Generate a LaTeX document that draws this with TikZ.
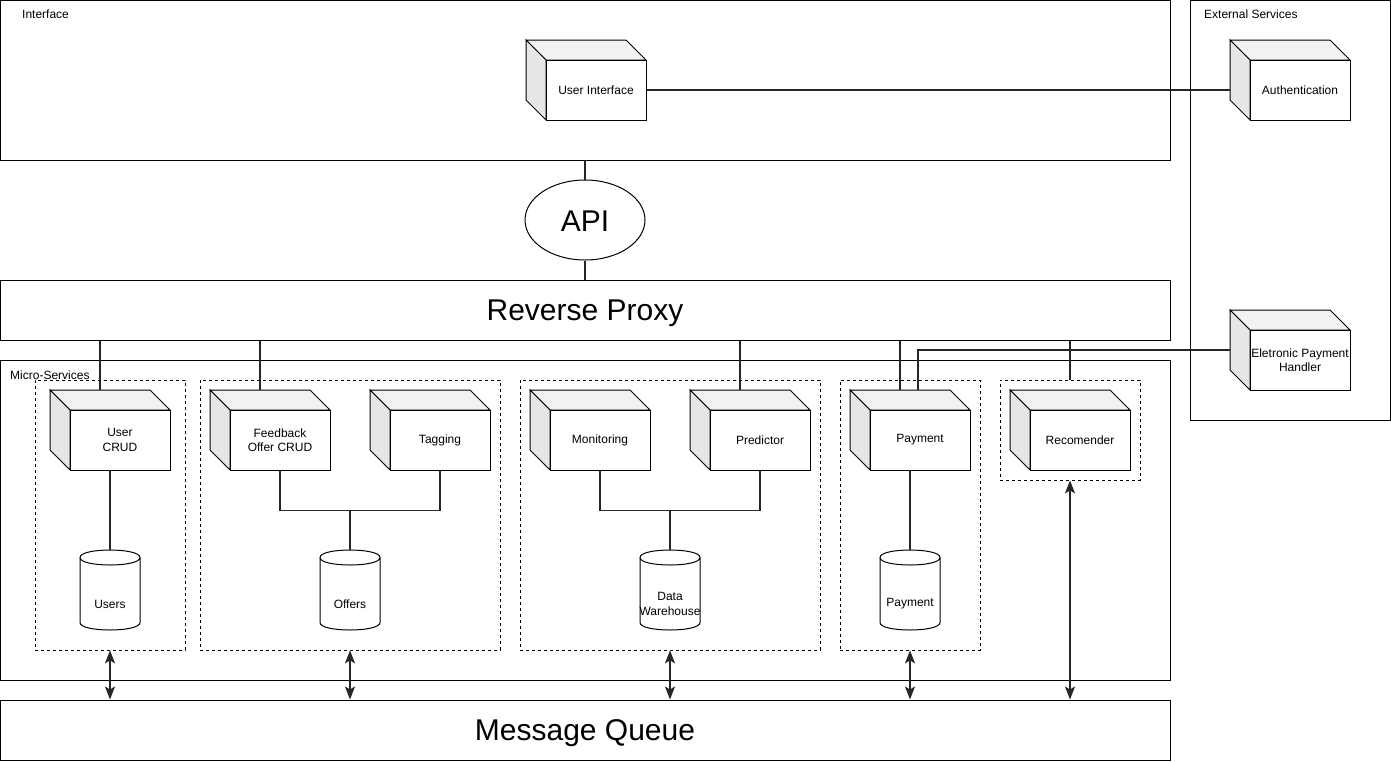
\documentclass[tikz,border=0pt]{standalone}
\usepackage{fontspec}
\setmainfont{Liberation Sans}
\usetikzlibrary{arrows.meta,shapes.geometric}
\definecolor{cubetop}{HTML}{F2F2F2}
\definecolor{cubeside}{HTML}{E6E6E6}
\newcommand\smallfont{\fontsize{12}{14.5}\selectfont}
\newcommand\bigfont{\fontsize{30}{36}\selectfont}
\newcommand\mycube[4]{%
  \draw[boxline, fill=cubetop] (#2,#3) -- ++(100,0) -- ++(20,20) -- ++(-100,0) -- cycle;
  \draw[boxline, fill=cubeside] (#2,#3) -- ++(20,20) -- ++(0,60) -- ++(-20,-20) -- cycle;
  \node[cubefront] (#1) at ({#2+70},{#3+50}) {#4};
  \coordinate (#1-t) at ({#2+50},#3);
  \coordinate (#1-l) at (#2,{#3+50});
  \coordinate (#1-b) at ({#2+60},{#3+80});
}
\newcommand\mycyl[3]{%
  \draw[boxline, fill=white] ({#2-30},557.5) -- ({#2-30},622.5)
     .. controls ({#2-30},632.5) and ({#2+30},632.5) .. ({#2+30},622.5)
     -- ({#2+30},557.5)
     .. controls ({#2+30},547.5) and ({#2-30},547.5) .. ({#2-30},557.5) -- cycle;
  \draw[boxline] ({#2-30},557.5) .. controls ({#2-30},567.5) and ({#2+30},567.5) .. ({#2+30},557.5);
  \node[inner sep=0, minimum width=60pt, minimum height=80pt] (#1) at (#2,590) {};
  \node[font=\smallfont, align=center] (#1-txt) at (#2,604) {#3};
}
\begin{document}
\begin{tikzpicture}[x=1pt,y=-1pt,
  boxline/.style={draw=black, line width=1pt},
  bigbox/.style={boxline, rectangle, inner sep=0, fill=white},
  group/.style={draw=black, line width=0.8pt, dash pattern=on 3pt off 3pt, rectangle, inner sep=0},
  cubefront/.style={boxline, rectangle, fill=white, minimum width=100pt, minimum height=60pt, inner sep=0, align=center, font=\smallfont},
  conn/.style={draw=black!85, line width=1.4pt},
  biarrow/.style={conn, {Stealth[length=13pt,width=10pt,inset=3pt]}-{Stealth[length=13pt,width=10pt,inset=3pt]}},
  lbl/.style={font=\smallfont, anchor=west, inner sep=0},
  bigtxt/.style={font=\bigfont, inner sep=0}
]
\useasboundingbox (0,0) rectangle (1391,761);
% big containers
\node[bigbox, minimum width=1170pt, minimum height=160pt] (iface) at (585,80) {};
\node[lbl] at (22,14) {Interface};
\node[bigbox, minimum width=200pt, minimum height=420pt] (ext) at (1290,210) {};
\node[lbl] at (1204,14) {External Services};
\node[boxline, ellipse, minimum width=120pt, minimum height=80pt, inner sep=0] (api) at (585,220) {};
\node[bigtxt] at (585,221) {API};
\node[bigbox, minimum width=1170pt, minimum height=60pt] (rp) at (585,310) {};
\node[bigtxt] at (585,313) {Reverse Proxy};
\node[bigbox, minimum width=1170pt, minimum height=320pt] (ms) at (585,520) {};
\node[lbl] at (10,375) {Micro-Services};
\node[bigbox, minimum width=1170pt, minimum height=60pt] (mq) at (585,730) {};
\node[bigtxt] at (585,733) {Message Queue};
% dashed groups
\node[group, minimum width=150pt, minimum height=270pt] (g1) at (110,515) {};
\node[group, minimum width=300pt, minimum height=270pt] (g2) at (350,515) {};
\node[group, minimum width=300pt, minimum height=270pt] (g3) at (670,515) {};
\node[group, minimum width=140pt, minimum height=270pt] (g4) at (910,515) {};
\node[group, minimum width=140pt, minimum height=100pt] (g5) at (1070,430) {};
% cubes
\mycube{ui}{526}{40}{User Interface}
\mycube{auth}{1230}{40}{Authentication}
\mycube{eph}{1230}{310}{Eletronic Payment\\Handler}
\mycube{ucrud}{50}{390}{User\\CRUD}
\mycube{fb}{210}{390}{Feedback\\Offer CRUD}
\mycube{tag}{370}{390}{Tagging}
\mycube{mon}{530}{390}{Monitoring}
\mycube{pred}{690}{390}{Predictor}
\mycube{pay}{850}{390}{Payment}
\mycube{rec}{1010}{390}{Recomender}
% cylinders
\mycyl{users}{110}{Users}
\mycyl{offers}{350}{Offers}
\mycyl{dw}{670}{Data\\Warehouse}
\mycyl{payd}{910}{Payment}
\coordinate (pay-t2) at (918,390);
\coordinate (eph-c) at (1230,350);
% connectors
\draw[conn] (ui.east) -- (auth-l);
\draw[conn] (iface.south) -- (api.north);
\draw[conn] (api.south) -- (rp.north);
\draw[conn] (ucrud-t) -- (ucrud-t |- rp.south);
\draw[conn] (fb-t) -- (fb-t |- rp.south);
\draw[conn] (pred-t) -- (pred-t |- rp.south);
\draw[conn] (pay-t) -- (pay-t |- rp.south);
\draw[conn] (g5.north) -- (g5.north |- rp.south);
\draw[conn] (eph-c) -| (pay-t2);
\draw[conn] (ucrud-b) -- (users.north);
\draw[conn] (fb.south) -- ++(0,40) -| (tag.south);
\draw[conn] (offers.north) -- ++(0,-40);
\draw[conn] (mon.south) -- ++(0,40) -| (pred.south);
\draw[conn] (dw.north) -- ++(0,-40);
\draw[conn] (pay-b) -- (payd.north);
% message queue arrows
\draw[biarrow] (g1.south) -- (g1.south |- mq.north);
\draw[biarrow] (g2.south) -- (g2.south |- mq.north);
\draw[biarrow] (g3.south) -- (g3.south |- mq.north);
\draw[biarrow] (g4.south) -- (g4.south |- mq.north);
\draw[biarrow] (g5.south) -- (g5.south |- mq.north);
\end{tikzpicture}
\end{document}
